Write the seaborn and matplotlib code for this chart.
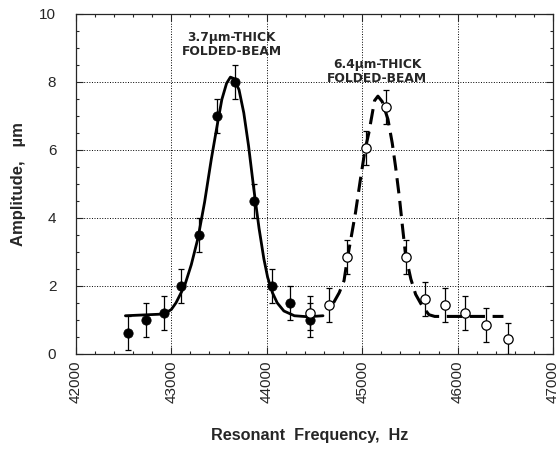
import numpy as np
import pandas as pd
import matplotlib
matplotlib.use("Agg")
import matplotlib.pyplot as plt
from matplotlib.ticker import MultipleLocator
import seaborn as sns

# measured points, 3.7 um beam (filled) and 6.4 um beam (open)
freq_thin = [42550, 42735, 42920, 43105, 43290, 43480, 43670, 43865, 44055, 44245, 44450]
amp_thin = [0.6, 1.0, 1.2, 2.0, 3.5, 7.0, 8.0, 4.5, 2.0, 1.5, 1.0]
err_thin = [0.5, 0.5, 0.5, 0.5, 0.5, 0.5, 0.5, 0.5, 0.5, 0.5, 0.5]

freq_thick = [44450, 44650, 44845, 45045, 45245, 45455, 45660, 45865, 46075, 46300, 46525]
amp_thick = [1.2, 1.45, 2.85, 6.05, 7.25, 2.85, 1.6, 1.45, 1.2, 0.85, 0.45]
err_thick = [0.5, 0.5, 0.5, 0.5, 0.5, 0.5, 0.5, 0.5, 0.5, 0.5, 0.45]

# fitted curves
fit_thin_x = [42520, 42920, 43000, 43050, 43140, 43210, 43280, 43350, 43420, 43480,
              43530, 43580, 43620, 43655, 43710, 43760, 43810, 43865, 43920, 43970,
              44010, 44060, 44110, 44180, 44290, 44430, 44590]
fit_thin_y = [1.12, 1.17, 1.3, 1.5, 2.0, 2.62, 3.4, 4.47, 5.73, 6.7,
              7.48, 7.96, 8.14, 8.1, 7.77, 7.09, 6.12, 4.85, 3.69, 2.8,
              2.25, 1.8, 1.5, 1.26, 1.12, 1.09, 1.12]

fit_thick_x = [44700, 44760, 44810, 44845, 44880, 44930, 44980, 45030, 45070, 45130,
               45165, 45210, 45270, 45315, 45350, 45390, 45420, 45455, 45510, 45560,
               45630, 45700, 45760, 46480]
fit_thick_y = [1.5, 1.8, 2.15, 2.8, 3.35, 4.15, 5.1, 6.0, 6.5, 7.45,
               7.58, 7.42, 6.9, 6.2, 5.5, 4.6, 3.8, 2.9, 2.2, 1.75,
               1.4, 1.15, 1.1, 1.1]

sns.set_style("ticks")
plt.rcParams['font.family'] = ['Liberation Sans', 'DejaVu Sans']

fig = plt.figure(figsize=(5.57, 4.49), dpi=100)
ax = fig.add_axes([0.136, 0.212, 0.857, 0.757])

sns.lineplot(x=fit_thin_x, y=fit_thin_y, ax=ax, color='black', lw=2.0, sort=False)
sns.lineplot(x=fit_thick_x, y=fit_thick_y, ax=ax, color='black', lw=2.2, sort=False)
ax.lines[-1].set_dashes([5, 2.5])

ax.errorbar(freq_thin, amp_thin, yerr=err_thin, fmt='none', ecolor='black',
            elinewidth=0.9, capsize=2.5, capthick=0.9)
ax.errorbar(freq_thick, amp_thick, yerr=err_thick, fmt='none', ecolor='black',
            elinewidth=0.9, capsize=2.5, capthick=0.9)

sns.scatterplot(x=freq_thin, y=amp_thin, ax=ax, color='black', s=45,
                edgecolor='black', zorder=5)
sns.scatterplot(x=freq_thick, y=amp_thick, ax=ax, facecolor='white', s=45,
                edgecolor='black', linewidth=0.9, zorder=5)

ax.text(43635, 9.1, "3.7µm-THICK\nFOLDED-BEAM", ha='center', va='center',
        fontsize=8.8, fontweight='bold', family='DejaVu Sans', linespacing=1.15)
ax.text(45160, 8.3, "6.4µm-THICK\nFOLDED-BEAM", ha='center', va='center',
        fontsize=8.8, fontweight='bold', family='DejaVu Sans', linespacing=1.15)

ax.set_xlim(42000, 47000)
ax.set_ylim(0, 10)
ax.xaxis.set_major_locator(MultipleLocator(1000))
ax.xaxis.set_minor_locator(MultipleLocator(200))
ax.yaxis.set_major_locator(MultipleLocator(2))
ax.yaxis.set_minor_locator(MultipleLocator(0.5))
ax.tick_params(which='both', direction='in', top=True, right=True, width=0.8)
ax.tick_params(which='major', length=5, labelsize=11)
ax.tick_params(axis='y', which='major', pad=14)
ax.tick_params(axis='x', which='major', pad=5)
ax.tick_params(which='minor', length=2.5)
for lab in ax.get_xticklabels():
    lab.set_rotation(90)

ax.grid(True, which='major', ls=':', color='black', lw=0.7)
for sp in ax.spines.values():
    sp.set_linewidth(0.9)

ax.set_xlabel("Resonant  Frequency,  Hz", fontsize=11.7, fontweight='bold')
ax.set_ylabel("Amplitude,   µm", fontsize=12, fontweight='bold')
ax.xaxis.set_label_coords(0.49, -0.218)
ax.yaxis.set_label_coords(-0.105, 0.5)

fig.savefig("out.png", dpi=100)
